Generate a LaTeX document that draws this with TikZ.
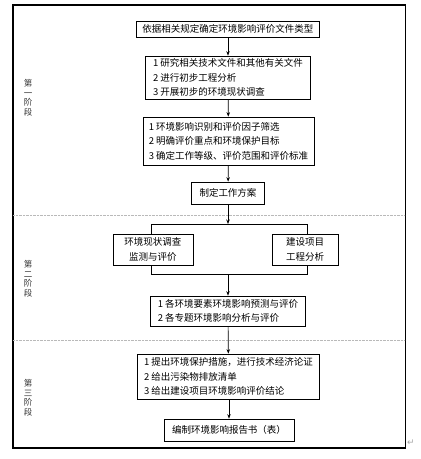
\documentclass[tikz,border=0pt]{standalone}
\usepackage{fontspec}
\newfontfamily\cjk{Noto Sans CJK SC}
\newfontfamily\retfont{DejaVu Sans}
\usetikzlibrary{arrows.meta}
\tikzset{
  stagebox/.style 2 args={draw,fill=white,line width=0.7pt,minimum width=#1,minimum height=#2,
    inner sep=1pt,font=\cjk\fontsize{9.5}{14.5}\selectfont},
  stagelabel/.style={align=center,text=black!80,font=\cjk\fontsize{8.5}{9.5}\selectfont},
  arr/.style={-{Stealth[length=4.5pt,width=3.5pt]},line width=0.7pt},
  sepline/.style={gray!55,line width=0.8pt,dash pattern=on 0.8pt off 0.6pt}
}
\begin{document}
\begin{tikzpicture}[x=1pt,y=-1pt]
\useasboundingbox (0,0) rectangle (421,459);
\draw[line width=1.2pt] (13,5) rectangle (405.5,448); %外框
\draw[sepline] (13,215)--(405,215);
\draw[sepline] (13,340)--(405,340);
\foreach \n/\y/\k in {一/98/1,二/279/2,三/398/3}
\node[stagelabel] (stage\k) at (28,\y) {第\\\n\\阶\\段};
% 第一阶段
\node[stagebox={183pt}{16pt}] (doctype) at (228,29) {依据相关规定确定环境影响评价文件类型};
\node[stagebox={165pt}{43pt},align=left] (study) at (228,77.5)
  {1 研究相关技术文件和其他有关文件\\2 进行初步工程分析\\3 开展初步的环境现状调查};
\node[stagebox={171pt}{48pt},align=left] (screen) at (228.5,141)
  {1 环境影响识别和评价因子筛选\\2 明确评价重点和环境保护目标\\3 确定工作等级、评价范围和评价标准};
\node[stagebox={73pt}{22pt}] (plan) at (228,193) {制定工作方案};
% 第二阶段
\coordinate (split) at (228,224);
\coordinate (join) at (228,274);
\draw[line width=0.7pt] (151,224) rectangle (307,274);
\node[stagebox={80pt}{31pt},align=center] (survey) at (153,249.5) {环境现状调查\\监测与评价};
\node[stagebox={66pt}{31pt},align=center] (project) at (305,249.5) {建设项目\\工程分析};
\node[stagebox={155pt}{30pt},align=left] (predict) at (228,311)
  {1 各环境要素环境影响预测与评价\\2 各专题环境影响分析与评价};
% 第三阶段
\node[stagebox={182pt}{45pt},align=left] (measure) at (228.5,376.5)
  {1 提出环境保护措施，进行技术经济论证\\2 给出污染物排放清单\\3 给出建设项目环境影响评价结论};
\node[stagebox={130pt}{22pt}] (report) at (229,430) {编制环境影响报告书（表）};
\node[text=gray!70,inner sep=0pt,font=\retfont\fontsize{9}{9}\selectfont] (ret) at (411,443) {↵};
\draw[arr] (doctype)--(study);
\draw[arr] (study)--(screen);
\draw[arr] (screen)--(plan);
\draw[arr] (plan)--(split);
\draw[arr] (join)--(predict);
\draw[arr] (predict)--(measure);
\draw[arr] (measure.south -| report)--(report);
\end{tikzpicture}
\end{document}
